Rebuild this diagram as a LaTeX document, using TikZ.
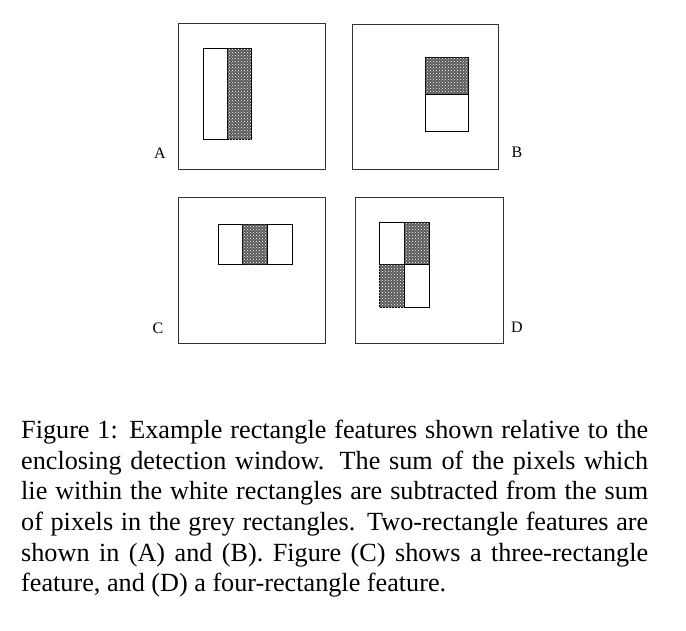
\documentclass[tikz,border=0pt]{standalone}
\usepackage{fontspec}
\setmainfont{Liberation Serif}
\usetikzlibrary{patterns}
\tikzset{
  window/.style={draw=black!80, line width=1pt},
  whiterect/.style={draw=black, line width=1pt, fill=white},
  greyrect/.style={draw=black, line width=1pt, fill=black!65,
    postaction={pattern=crosshatch dots, pattern color=white}},
  panellabel/.style={font=\fontsize{16}{18}\selectfont, inner sep=0pt},
}

\begin{document}
\begin{tikzpicture}[x=1pt, y=-1pt]
    \useasboundingbox (0, 0) rectangle (686, 630);
    % A: two rectangles side by side
    \draw[window](178, 23) rectangle (325, 169);
    \draw[whiterect](203, 48) rectangle (227, 139);
    \draw[greyrect](227, 48) rectangle (251, 139);
    \node[panellabel] (labA) at (160, 153) {A};
    % B: two rectangles stacked
    \draw[window](352, 24) rectangle (498, 169);
    \draw[greyrect](425, 57) rectangle (468, 94);
    \draw[whiterect](425, 94) rectangle (468, 131);
    \node[panellabel] (labB) at (517, 152) {B};
    % C: three rectangles
    \draw[window](178, 197) rectangle (325, 343);
    \draw[whiterect](218, 224) rectangle (242, 264);
    \draw[greyrect](242, 224) rectangle (267, 264);
    \draw[whiterect](267, 224) rectangle (292, 264);
    \node[panellabel] (labC) at (158, 328) {C};
    % D: four rectangles
    \draw[window](355, 197) rectangle (503, 343);
    \draw[whiterect](379, 222) rectangle (404, 264);
    \draw[greyrect](404, 222) rectangle (429, 264);
    \draw[greyrect](379, 264) rectangle (404, 307);
    \draw[whiterect](404, 264) rectangle (429, 307);
    \node[panellabel] (labD) at (517, 327) {D};
    % caption
    \node[anchor=north west, inner sep=0pt, text width=627pt, align=justify,
          font=\fontsize{26.2}{30.6}\selectfont] (caption) at (21, 420)
    {Figure 1: Example rectangle features shown relative to the\linebreak
     enclosing detection window.  The sum of the pixels which\linebreak
     lie within the white rectangles are subtracted from the sum\linebreak
     of pixels in the grey rectangles.  Two-rectangle features are\linebreak
     shown in (A) and (B). Figure (C) shows a three-rectangle\linebreak
     feature, and (D) a four-rectangle feature.};
\end{tikzpicture}
\end{document}
